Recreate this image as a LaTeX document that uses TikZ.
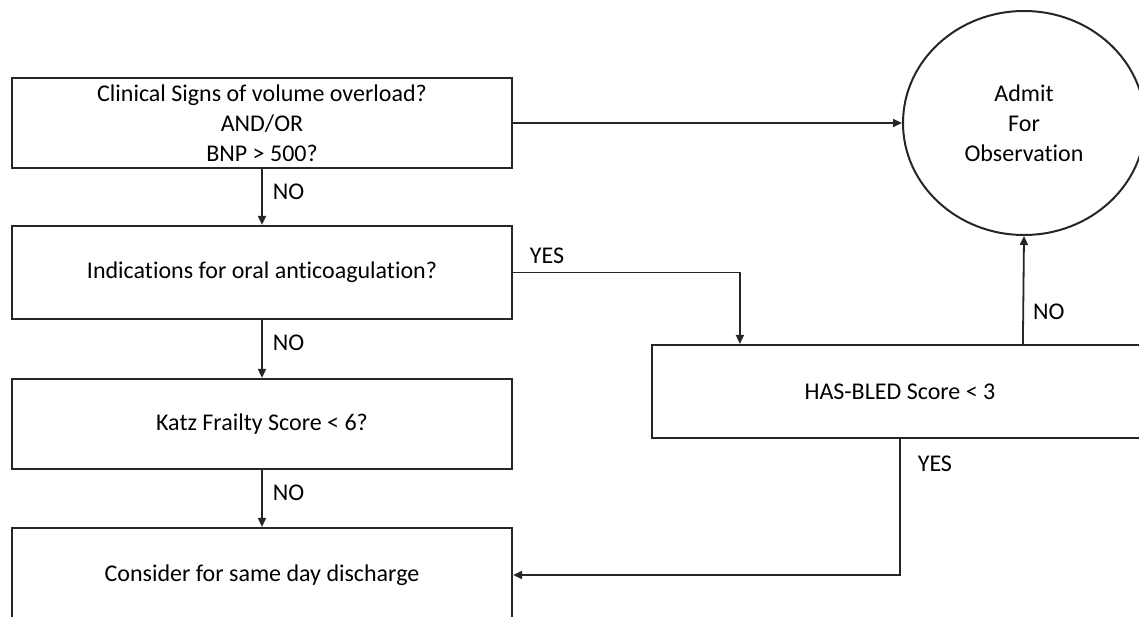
\documentclass[tikz,border=0pt]{standalone}
\usepackage{fontspec}
\setmainfont{Carlito}[Ligatures={NoCommon}]
\usetikzlibrary{shapes.geometric,arrows.meta}
\begin{document}
\begin{tikzpicture}[x=1pt,y=-1pt,
  txt/.style={text=black, font=\fontsize{24}{30}\selectfont},
  box/.style={txt, draw=black!85, line width=2.2pt, rectangle, minimum width=500pt, inner sep=0pt, align=center},
  oval/.style={txt, draw=black!85, line width=2pt, ellipse, minimum width=242pt, minimum height=224pt, inner sep=0pt, align=center},
  arr/.style={draw=black!85, line width=1.8pt, -{Triangle[length=9pt,width=8pt]}},
  lbl/.style={txt, inner sep=0pt, anchor=west}]
\useasboundingbox (0,0) rectangle (1139,617);
\begin{scope}
\clip (0,0) rectangle (1139,617);
\node[box, minimum height=90pt] (b1) at (262,123) {Clinical Signs of volume overload?\\AND/OR\\BNP > 500?};
\node[box, minimum height=93pt] (b2) at (262,272.5) {Indications for oral anticoagulation?};
\node[box, minimum height=90pt] (b3) at (262,424) {Katz Frailty Score < 6?};
\node[box, minimum height=94pt] (b4) at (262,575) {Consider for same day discharge};
\node[box, minimum width=496pt, minimum height=93pt] (hb) at (900,391.5) {HAS-BLED Score < 3};
\node[oval] (adm) at (1024,123) {Admit\\For\\Observation};

\draw[arr] (b1.east) -- (adm.west);
\draw[arr] (b1.south) -- node[lbl, pos=0.4, xshift=10pt] {NO} (b2.north);
\draw[arr] (b2.south) -- node[lbl, pos=0.4, xshift=10pt] {NO} (b3.north);
\draw[arr] (b3.south) -- node[lbl, pos=0.4, xshift=10pt] {NO} (b4.north);
\draw[arr] (b2.east) -| node[lbl, anchor=south west, pos=0.035, yshift=8pt] {YES} ([xshift=89pt]hb.north west);
\draw[arr] ([xshift=372pt]hb.north west) -- node[lbl, pos=0.3, xshift=9pt] {NO} (adm.south);
\draw[arr] ([xshift=249pt]hb.south west) |- node[lbl, pos=0.09, xshift=17pt] {YES} (b4.east);
\end{scope}
\end{tikzpicture}
\end{document}
